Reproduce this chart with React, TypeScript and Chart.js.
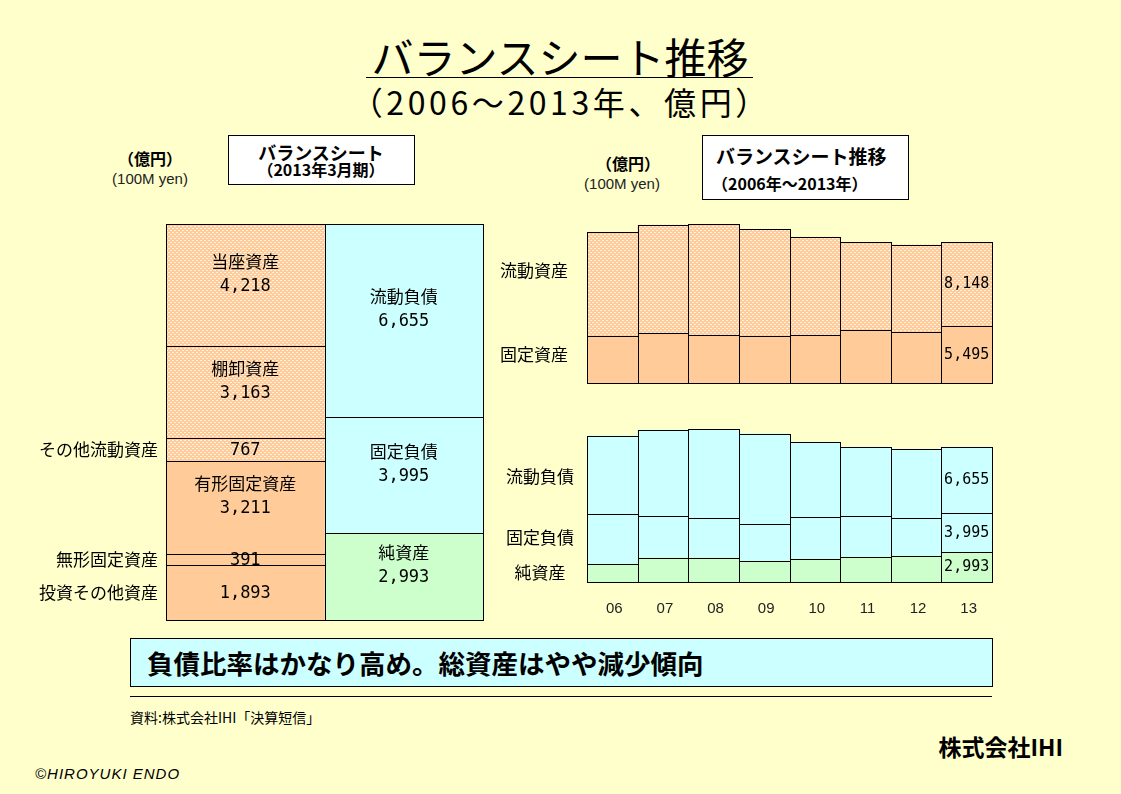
import React, { useEffect, useRef } from "react";
import { Chart, registerables } from "chart.js";

Chart.register(...registerables);

// ---------- data ----------
const bsCategories = ["資産", "負債・純資産"];
// assets, bottom to top
const assetNames = ["投資その他資産", "無形固定資産", "有形固定資産", "その他流動資産", "棚卸資産", "当座資産"];
const assetValues = [1893, 391, 3211, 767, 3163, 4218];
const assetIsCurrent = [false, false, false, true, true, true];
// liabilities & net assets, bottom to top
const liabNames = ["純資産", "固定負債", "流動負債"];
const liabValues = [2993, 3995, 6655];

const years = ["06", "07", "08", "09", "10", "11", "12", "13"];
const fixedAssets = [4550, 4840, 4650, 4550, 4650, 5160, 4940, 5495];
const currentAssets = [10070, 10480, 10770, 10360, 9510, 8490, 8450, 8148];
const netAssets = [1820, 2460, 2430, 2120, 2320, 2530, 2630, 2993];
const fixedLiab = [5050, 4210, 4040, 3740, 4250, 4140, 3840, 3995];
const currentLiab = [7910, 8690, 8990, 9100, 7580, 6970, 6970, 6655];

// ---------- styles ----------
const BG = "#FFFFCC";
const ORANGE = "#FFCC99";
const CYAN = "#CCFFFF";
const GREEN = "#CCFFCC";
const CJK = '"Noto Sans CJK JP", sans-serif';
const MONO = '"DejaVu Sans Mono", monospace';
const SANS = '"Liberation Sans", Arial, sans-serif';

const fmt = (v: number) => v.toLocaleString("en-US");

function makePattern(): CanvasPattern | string {
  const c = document.createElement("canvas");
  c.width = 4;
  c.height = 4;
  const g = c.getContext("2d");
  if (!g) return ORANGE;
  g.fillStyle = ORANGE;
  g.fillRect(0, 0, 4, 4);
  g.fillStyle = "#FFF3E6";
  g.fillRect(0, 0, 2, 1);
  g.fillRect(2, 2, 2, 1);
  return g.createPattern(c, "repeat") || ORANGE;
}

const outlinePlugin = {
  id: "outline",
  afterDatasetsDraw(chart: any) {
    const ctx = chart.ctx;
    ctx.save();
    ctx.strokeStyle = "#000";
    ctx.lineWidth = 1;
    chart.data.datasets.forEach((ds: any, di: number) => {
      const meta = chart.getDatasetMeta(di);
      meta.data.forEach((el: any, i: number) => {
        if (ds.data[i] == null) return;
        const { x, y, base, width } = el.getProps(["x", "y", "base", "width"], true);
        const l = Math.round(x - width / 2) + 0.5;
        const r = Math.round(x + width / 2) + 0.5;
        const t = Math.round(Math.min(y, base)) + 0.5;
        const b = Math.round(Math.max(y, base)) + 0.5;
        ctx.strokeRect(l, t, r - l, b - t);
      });
    });
    ctx.restore();
  },
};

function segInfo(chart: any, di: number, i: number) {
  const el = chart.getDatasetMeta(di).data[i];
  const { x, y, base } = el.getProps(["x", "y", "base"], true);
  return { x, mid: (y + base) / 2, h: Math.abs(base - y) };
}

// ---------- left balance sheet labels ----------
const bsLabelPlugin = {
  id: "bsLabels",
  afterDatasetsDraw(chart: any) {
    const ctx = chart.ctx;
    ctx.save();
    ctx.fillStyle = "#000";
    ctx.textBaseline = "middle";
    chart.data.datasets.forEach((ds: any, di: number) => {
      ds.data.forEach((v: number | null, i: number) => {
        if (v == null) return;
        const { x, mid, h } = segInfo(chart, di, i);
        ctx.textAlign = "center";
        ctx.font = `17px ${MONO}`;
        ctx.fillText(fmt(v), x, mid + 1);
        ctx.font = `17px ${CJK}`;
        if (h > 70) {
          ctx.fillText(ds.label, x, mid - 24);
        } else {
          ctx.textAlign = "right";
          ctx.fillText(ds.label, chart.chartArea.left - 8, mid);
        }
      });
    });
    ctx.restore();
  },
};

// ---------- trend chart labels ----------
const trendLabelPlugin = {
  id: "trendLabels",
  afterDatasetsDraw(chart: any, _args: any, opts: any) {
    const ctx = chart.ctx;
    const last = chart.data.labels.length - 1;
    ctx.save();
    ctx.fillStyle = "#000";
    ctx.textBaseline = "middle";
    chart.data.datasets.forEach((ds: any, di: number) => {
      const { x, mid } = segInfo(chart, di, last);
      ctx.textAlign = "center";
      ctx.font = `15px ${MONO}`;
      ctx.fillText(fmt(ds.data[last]), x, mid);
      ctx.font = `17px ${CJK}`;
      ctx.fillText(ds.label, chart.chartArea.left - (opts.nameOffset || 50), mid + (ds.nameDy || 0));
    });
    if (opts.showX) {
      ctx.font = `15px ${SANS}`;
      ctx.fillStyle = "#222";
      ctx.textAlign = "center";
      chart.data.labels.forEach((lab: string, i: number) => {
        ctx.fillText(lab, chart.scales.x.getPixelForValue(i) + 2, chart.chartArea.bottom + 27);
      });
    }
    ctx.restore();
  },
};

function useChart(build: () => any) {
  const ref = useRef<HTMLCanvasElement | null>(null);
  useEffect(() => {
    if (!ref.current) return;
    const chart = new Chart(ref.current, build());
    return () => chart.destroy();
  }, []);
  return ref;
}

const baseOptions = (padding: any, max: number, extra: any = {}) => ({
  responsive: false,
  animation: false,
  events: [],
  layout: { padding },
  datasets: { bar: { barPercentage: 1, categoryPercentage: 1 } },
  scales: {
    x: { display: false, stacked: true },
    y: { display: false, stacked: true, min: 0, max },
  },
  plugins: { legend: { display: false }, tooltip: { enabled: false }, ...extra },
});

function BalanceSheet() {
  const ref = useChart(() => {
    const pat = makePattern();
    const total = assetValues.reduce((a, b) => a + b, 0);
    const datasets: any[] = [];
    assetNames.forEach((n, k) =>
      datasets.push({
        label: n,
        data: [assetValues[k], null],
        backgroundColor: assetIsCurrent[k] ? pat : ORANGE,
        borderWidth: 0,
      })
    );
    liabNames.forEach((n, k) =>
      datasets.push({
        label: n,
        data: [null, liabValues[k]],
        backgroundColor: k === 0 ? GREEN : CYAN,
        borderWidth: 0,
      })
    );
    return {
      type: "bar",
      data: { labels: bsCategories, datasets },
      options: baseOptions({ left: 166, right: 17, top: 24, bottom: 10 }, total),
      plugins: [outlinePlugin, bsLabelPlugin],
    };
  });
  return <canvas ref={ref} width={500} height={430} style={{ position: "absolute", left: 0, top: 200, width: 500, height: 430 }} />;
}

function AssetTrend() {
  const ref = useChart(() => {
    const pat = makePattern();
    const max = Math.max(...fixedAssets.map((v, i) => v + currentAssets[i]));
    return {
      type: "bar",
      data: {
        labels: years,
        datasets: [
          { label: "固定資産", data: fixedAssets, backgroundColor: ORANGE, borderWidth: 0 },
          { label: "流動資産", data: currentAssets, backgroundColor: pat, borderWidth: 0, nameDy: -14 },
        ],
      },
      options: baseOptions({ left: 107, right: 18, top: 10, bottom: 11 }, max, { trendLabels: { nameOffset: 53 } }),
      plugins: [outlinePlugin, trendLabelPlugin],
    };
  });
  return <canvas ref={ref} width={530} height={180} style={{ position: "absolute", left: 480, top: 214, width: 530, height: 180 }} />;
}

function LiabTrend() {
  const ref = useChart(() => {
    const max = Math.max(...netAssets.map((v, i) => v + fixedLiab[i] + currentLiab[i]));
    return {
      type: "bar",
      data: {
        labels: years,
        datasets: [
          { label: "純資産", data: netAssets, backgroundColor: GREEN, borderWidth: 0, nameDy: 5 },
          { label: "固定負債", data: fixedLiab, backgroundColor: CYAN, borderWidth: 0, nameDy: 5 },
          { label: "流動負債", data: currentLiab, backgroundColor: CYAN, borderWidth: 0, nameDy: -3 },
        ],
      },
      options: baseOptions({ left: 107, right: 18, top: 10, bottom: 37 }, max, { trendLabels: { nameOffset: 47, showX: true } }),
      plugins: [outlinePlugin, trendLabelPlugin],
    };
  });
  return <canvas ref={ref} width={530} height={200} style={{ position: "absolute", left: 480, top: 419, width: 530, height: 200 }} />;
}

type TxtProps = {
  x: number;
  y: number;
  size: number;
  children: React.ReactNode;
  bold?: boolean;
  align?: "left" | "center" | "right";
  family?: string;
  color?: string;
  italic?: boolean;
  extra?: React.CSSProperties;
};

function Txt({ x, y, size, children, bold, align = "left", family = CJK, color = "#000", italic, extra }: TxtProps) {
  const transform = align === "center" ? "translateX(-50%)" : align === "right" ? "translateX(-100%)" : undefined;
  return (
    <div
      style={{
        position: "absolute",
        left: x,
        top: y - size / 2,
        fontSize: size,
        lineHeight: `${size}px`,
        fontFamily: family,
        fontWeight: bold ? 700 : 400,
        fontStyle: italic ? "italic" : "normal",
        color,
        whiteSpace: "nowrap",
        transform,
        ...extra,
      }}
    >
      {children}
    </div>
  );
}

const boxStyle = (l: number, t: number, w: number, h: number, bg: string): React.CSSProperties => ({
  position: "absolute",
  left: l,
  top: t,
  width: w,
  height: h,
  background: bg,
  border: "1px solid #000",
  boxSizing: "border-box",
});

export default function App() {
  return (
    <div
      style={{
        position: "absolute",
        left: 0,
        top: 0,
        width: 1121,
        height: 794,
        background: BG,
        overflow: "hidden",
        fontFamily: CJK,
      }}
    >
      {/* title */}
      <Txt x={560} y={56} size={42} align="center">バランスシート推移</Txt>
      <div style={{ position: "absolute", left: 366, top: 77, width: 387, height: 1, background: "#000" }} />
      <Txt x={559} y={101} size={32} align="center" extra={{ letterSpacing: 3.6, paddingLeft: 3.6 }}>（2006～2013年、億円）</Txt>

      {/* unit labels */}
      <Txt x={150} y={158} size={16} bold align="center">（億円）</Txt>
      <Txt x={150} y={178} size={15} align="center" family={SANS} color="#222">(100M yen)</Txt>
      <Txt x={628} y={163} size={16} bold align="center">（億円）</Txt>
      <Txt x={622} y={183} size={15} align="center" family={SANS} color="#222">(100M yen)</Txt>

      {/* header boxes */}
      <div style={boxStyle(228, 135, 187, 50, "#FFFFFF")} />
      <Txt x={321} y={152} size={18} bold align="center">バランスシート</Txt>
      <Txt x={321} y={169} size={16} bold align="center">（2013年3月期）</Txt>

      <div style={boxStyle(702, 135, 207, 65, "#FFFFFF")} />
      <Txt x={716} y={155} size={19} bold>バランスシート推移</Txt>
      <Txt x={712} y={183} size={16} bold>（2006年～2013年）</Txt>

      {/* charts */}
      <BalanceSheet />
      <AssetTrend />
      <LiabTrend />

      {/* conclusion */}
      <div style={boxStyle(130, 638, 863, 49, CYAN)} />
      <Txt x={147} y={663} size={26.5} bold>負債比率はかなり高め。総資産はやや減少傾向</Txt>
      <div style={{ position: "absolute", left: 130, top: 696, width: 862, height: 1, background: "#000" }} />
      <Txt x={130} y={717} size={14}>資料:株式会社IHI「決算短信」</Txt>
      <Txt x={1063} y={746} size={23} bold align="right">株式会社IHI</Txt>
      <Txt x={35} y={773} size={15} family={SANS} italic extra={{ letterSpacing: 1 }}>©HIROYUKI ENDO</Txt>
    </div>
  );
}
